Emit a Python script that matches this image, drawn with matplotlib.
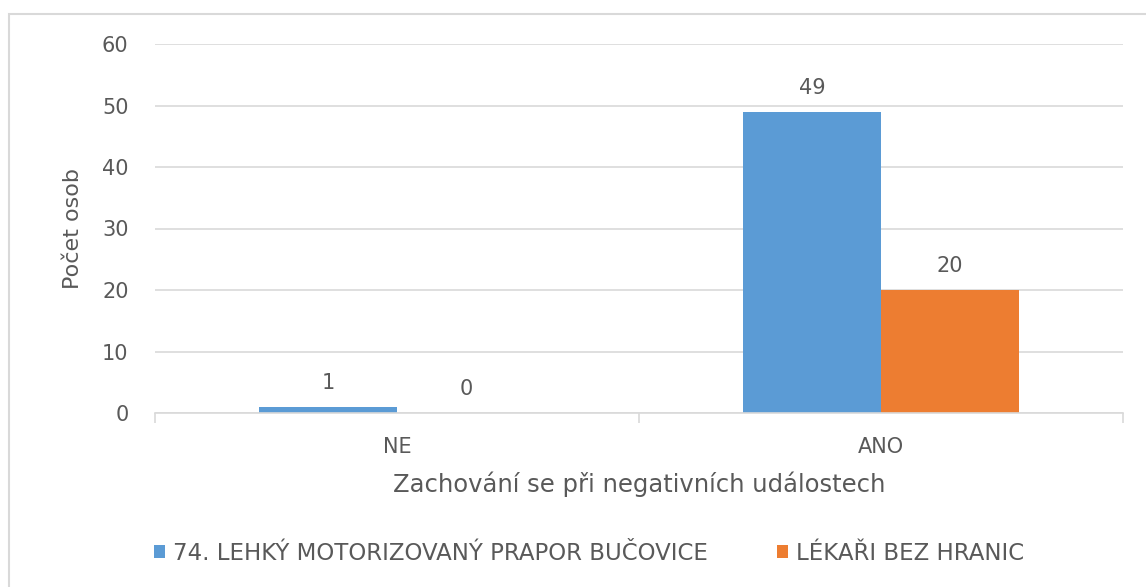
import numpy as np
import matplotlib.pyplot as plt
from matplotlib.patches import Rectangle

# Data
categories = ['NE', 'ANO']
series_names = ['74. LEHKÝ MOTORIZOVANÝ PRAPOR BUČOVICE', 'LÉKAŘI BEZ HRANIC']
prapor = [1, 49]
lekari = [0, 20]

blue = '#5B9BD5'
orange = '#ED7D31'
txt = '#595959'
grid = '#D9D9D9'

plt.rcParams['font.family'] = ['DejaVu Sans']

fig = plt.figure(figsize=(11.46, 5.87), dpi=100)
fig.patches.append(Rectangle((9 / 1146, -0.1), 1.2, 1.1 - 14 / 587,
                             transform=fig.transFigure, fill=False,
                             edgecolor='#D9D9D9', linewidth=1.5))

ax = fig.add_axes([155 / 1146, 1 - 413 / 587, (1123 - 155) / 1146, (413 - 44) / 587])

x = np.arange(len(categories))
w = 0.285
b1 = ax.bar(x - w / 2, prapor, w, color=blue, label=series_names[0])
b2 = ax.bar(x + w / 2, lekari, w, color=orange, label=series_names[1])

for bars in (b1, b2):
    for rect in bars:
        h = rect.get_height()
        ax.annotate(f'{h:g}', (rect.get_x() + rect.get_width() / 2, h),
                    xytext=(0, 10), textcoords='offset points',
                    ha='center', va='bottom', fontsize=15, color=txt)

ax.set_xlim(-0.5, 1.5)
ax.set_ylim(0, 60)
ax.set_yticks(range(0, 61, 10))
ax.set_xticks(x)
ax.set_xticklabels(categories)
ax.set_xticks([-0.5, 0.5, 1.5], minor=True)
ax.tick_params(axis='x', which='major', length=0, pad=17, labelsize=15, labelcolor=txt)
ax.tick_params(axis='x', which='minor', length=7, color=grid, width=1.2)
ax.tick_params(axis='y', length=0, pad=19, labelsize=15, labelcolor=txt)

ax.grid(axis='y', color=grid, linewidth=1.2)
ax.set_axisbelow(True)
for s in ('top', 'right', 'left'):
    ax.spines[s].set_visible(False)
ax.spines['bottom'].set_color(grid)
ax.spines['bottom'].set_linewidth(1.2)

ax.set_ylabel('Počet osob', fontsize=16, color=txt, labelpad=14)
ax.set_xlabel('Zachování se při negativních událostech', fontsize=17.5, color=txt, labelpad=11)

fig.legend(handles=[b1, b2], loc='center', bbox_to_anchor=(589 / 1146, 1 - 553 / 587),
           ncol=2, frameon=False, fontsize=16.5, labelcolor=txt,
           handlelength=0.5, handleheight=0.5, handletextpad=0.35, columnspacing=3.0)

fig.savefig('out.png', dpi=100)
